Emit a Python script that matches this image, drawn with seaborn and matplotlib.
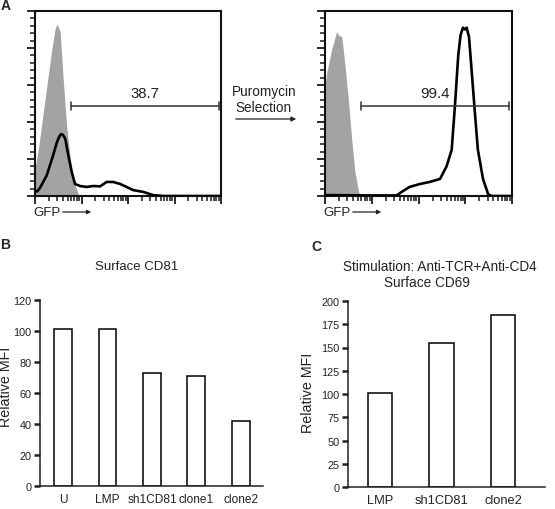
import numpy as np
import pandas as pd
import matplotlib
matplotlib.use("Agg")
import matplotlib.pyplot as plt
from matplotlib.ticker import MultipleLocator, NullFormatter, LogLocator
import seaborn as sns

# panel A: histograms, x in log10 GFP units, y in % of max
ctrl1_logx = [0.0, 0.07, 0.215, 0.36, 0.43, 0.47, 0.54, 0.61, 0.68, 0.75, 0.82, 0.93, 1.0]
ctrl1_count = [15, 25, 52, 79, 90, 93, 89, 62, 38, 22, 9, 1, 0]
gfp1_logx = [0.0, 0.05, 0.11, 0.25, 0.39, 0.47, 0.52, 0.56, 0.60, 0.65, 0.72, 0.79, 0.86,
             0.97, 1.11, 1.25, 1.40, 1.54, 1.68, 1.83, 1.97, 2.11, 2.33, 2.54, 2.76, 4.0]
gfp1_count = [2.7, 2.5, 4.5, 11, 22, 29, 32, 33.5, 33, 31, 21.6, 13, 6.5,
              5.4, 4.9, 5.4, 5.2, 7.6, 7.6, 6.5, 4.9, 3.2, 2.2, 0.5, 0, 0]

ctrl2_logx = [0.0, 0.04, 0.14, 0.25, 0.29, 0.36, 0.43, 0.50, 0.57, 0.64, 0.73, 0.8]
ctrl2_count = [60, 67, 79, 89, 87, 86, 70, 52, 31, 13, 1, 0]
gfp2_logx = [0.0, 1.0, 1.53, 1.67, 1.81, 2.03, 2.24, 2.46, 2.60, 2.71, 2.78, 2.85, 2.90,
             2.95, 2.99, 3.03, 3.08, 3.13, 3.20, 3.27, 3.38, 3.49, 3.56, 4.0]
gfp2_count = [0.5, 0.3, 0.3, 2.7, 4.9, 6.5, 7.6, 9.2, 16, 25, 49, 76, 87,
              91, 90, 91, 86, 70, 47, 25, 9.2, 1, 0, 0]

gate1_pct = "38.7"
gate2_pct = "99.4"

# panel B
cd81_groups = ["U", "LMP", "sh1CD81", "clone1", "clone2"]
cd81_mfi = [101, 101, 73, 71, 42]

# panel C
cd69_groups = ["LMP", "sh1CD81", "clone2"]
cd69_mfi = [101, 155, 185]

sns.set_theme(style="ticks")
plt.rcParams["font.family"] = ["Liberation Sans", "DejaVu Sans"]
TXT = "#222222"

W, H = 555, 510
fig = plt.figure(figsize=(W / 100, H / 100), dpi=100)


def box(x0, y0, x1, y1):
    # pixel box (top-left origin) -> figure fraction rect
    return [x0 / W, 1 - y1 / H, (x1 - x0) / W, (y1 - y0) / H]


def histo(ax, cx, cy, gx, gy, gate_txt, gate_lo, gate_hi):
    ax.fill_between(np.power(10.0, cx), cy, color="#a3a3a3", lw=0, zorder=1)
    sns.lineplot(x=np.power(10.0, gx), y=gy, ax=ax, color="black", lw=1.9,
                 sort=False, estimator=None, zorder=3)
    ax.set_xscale("log")
    ax.set_xlim(1, 1e4)
    ax.set_ylim(0, 100)
    ax.xaxis.set_major_locator(LogLocator(base=10, numticks=10))
    ax.xaxis.set_minor_locator(LogLocator(base=10, subs=np.arange(2, 10), numticks=50))
    ax.yaxis.set_major_locator(MultipleLocator(20))
    ax.yaxis.set_minor_locator(MultipleLocator(4))
    for axis in (ax.xaxis, ax.yaxis):
        axis.set_major_formatter(NullFormatter())
        axis.set_minor_formatter(NullFormatter())
    ax.tick_params(which="major", length=5.5, width=1.3, color="#1a1a1a")
    ax.tick_params(which="minor", length=3.5, width=1.1, color="#1a1a1a",
                   left=True, bottom=True, top=False, right=False)
    ax.set_xlabel("")
    ax.set_ylabel("")
    for s in ax.spines.values():
        s.set_linewidth(1.5)
        s.set_color("#111111")
    # gate bar
    ax.plot([gate_lo, gate_hi], [48.6, 48.6], color="#333333", lw=1.1, zorder=4)
    for gx_ in (gate_lo, gate_hi):
        ax.plot([gx_, gx_], [46.4, 50.8], color="#333333", lw=1.1, zorder=4)
    mid = np.sqrt(gate_lo * gate_hi)
    ax.text(mid, 52, gate_txt, ha="center", va="bottom", fontsize=10.8, color=TXT)


axA1 = fig.add_axes(box(35, 12, 221, 197))
histo(axA1, ctrl1_logx, ctrl1_count, gfp1_logx, gfp1_count, gate1_pct,
      10 ** 0.77, 10 ** 3.96)
axA2 = fig.add_axes(box(325, 12, 512, 197))
histo(axA2, ctrl2_logx, ctrl2_count, gfp2_logx, gfp2_count, gate2_pct,
      10 ** 0.77, 10 ** 3.94)

# arrows and labels for panel A
fig.text(264 / W, 1 - 100 / H, "Puromycin\nSelection", ha="center", va="center",
         fontsize=9.8, color=TXT, linespacing=1.1)
fig.add_artist(matplotlib.patches.FancyArrowPatch(
    (233 / W, 1 - 120 / H), (299 / W, 1 - 120 / H), transform=fig.transFigure,
    arrowstyle="-|>", mutation_scale=7, lw=0.9, color="#222222"))
for gx0 in (33, 323):
    fig.text(gx0 / W, 1 - 213 / H, "GFP", ha="left", va="center", fontsize=9.5, color=TXT)
    fig.add_artist(matplotlib.patches.FancyArrowPatch(
        ((gx0 + 27) / W, 1 - 213 / H), ((gx0 + 61) / W, 1 - 213 / H),
        transform=fig.transFigure, arrowstyle="-|>", mutation_scale=6, lw=0.9,
        color="#222222"))

fig.text(1 / W, 1 - 6 / H, "A", ha="left", va="center", fontsize=10, fontweight="bold")
fig.text(0 / W, 1 - 245 / H, "B", ha="left", va="center", fontsize=10, fontweight="bold")
fig.text(311 / W, 1 - 247 / H, "C", ha="left", va="center", fontsize=10, fontweight="bold")


def bars(ax, groups, vals, ymax, step, xmax, xsize):
    df = pd.DataFrame({"group": groups, "mfi": vals})
    sns.barplot(data=df, x="group", y="mfi", order=groups, ax=ax, width=0.4,
                color="white", edgecolor="black", linewidth=1.1)
    ax.set_xlim(-0.52, xmax)
    ax.set_ylim(0, ymax)
    ax.yaxis.set_major_locator(MultipleLocator(step))
    sns.despine(ax=ax)
    for s in ("left", "bottom"):
        ax.spines[s].set_linewidth(1.1)
        ax.spines[s].set_color("#222222")
    ax.tick_params(axis="y", length=4, width=1.8, pad=2, labelsize=7.8,
                   colors="#222222")
    ax.tick_params(axis="x", length=0, pad=5, labelsize=xsize, colors="#222222")
    ax.set_xlabel("")
    ax.set_ylabel("")


axB = fig.add_axes(box(40, 301, 263, 487))
bars(axB, cd81_groups, cd81_mfi, 120, 20, 4.5, 8.6)
fig.text(137 / W, 1 - 267 / H, "Surface CD81", ha="center", va="center",
         fontsize=9.5, color=TXT)
fig.text(6 / W, 1 - 387 / H, "Relative MFI", rotation=90, ha="center", va="center",
         fontsize=10.3, color=TXT)

axC = fig.add_axes(box(348, 302, 545, 488))
bars(axC, cd69_groups, cd69_mfi, 200, 25, 2.68, 9.3)
fig.text(440 / W, 1 - 267 / H, "Stimulation: Anti-TCR+Anti-CD4", ha="center",
         va="center", fontsize=9.8, color=TXT)
fig.text(427 / W, 1 - 283 / H, "Surface CD69", ha="center", va="center",
         fontsize=9.8, color=TXT)
fig.text(308 / W, 1 - 393 / H, "Relative MFI", rotation=90, ha="center", va="center",
         fontsize=10.3, color=TXT)

fig.savefig("out.png", dpi=100, facecolor="white")
